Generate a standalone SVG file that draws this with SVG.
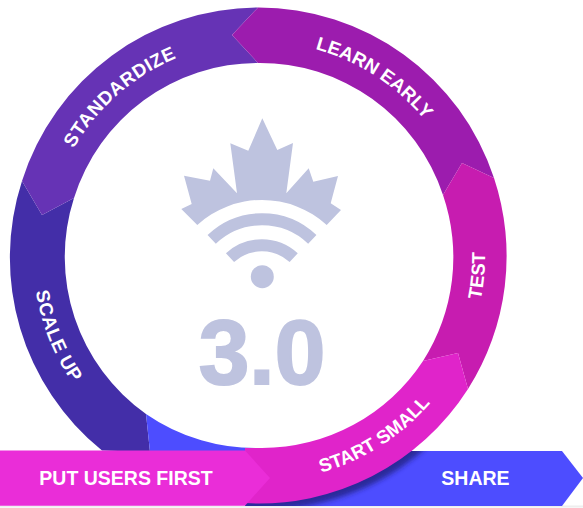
<svg xmlns="http://www.w3.org/2000/svg" width="583" height="508" viewBox="0 0 583 508">
<style>
.l{font-family:"Liberation Sans",Arial,sans-serif;font-weight:700;fill:#fff;font-size:18.8px}
.s{letter-spacing:.6px}
.b{font-family:"Liberation Sans",Arial,sans-serif;font-weight:700;fill:#fff;font-size:19.5px}
.m{fill:#bec3df}
.w{fill:none;stroke:#bec3df;stroke-width:12}
</style>
<defs>
<filter id="bl" x="-20%" y="-20%" width="140%" height="140%"><feGaussianBlur stdDeviation="2.500"/></filter>
<clipPath id="sh"><path d="M245,451H562L583,478L562,506H245Z"/></clipPath>
<path id="a1" d="M45,255.500A214,214 0 0 1 473,255.500"/>
<path id="a2" d="M33,255.500A226,226 0 0 0 485,255.500A226,226 0 0 0 33,255.500"/>
</defs>
<rect width="583" height="508" fill="#fff"/>
<rect x="0" y="505.500" width="583" height="2" fill="#e2e2e2" opacity=".6"/>
<g id="share">
<path d="M245,451H562L583,478L562,506H245Z" fill="#4d4dff"/>
<text class="b" x="475.500" y="485" text-anchor="middle">SHARE</text>
</g>
<g clip-path="url(#sh)"><circle cx="262" cy="262" r="248" fill="#1a1a70" opacity=".7" filter="url(#bl)"/></g>
<g id="scale-up">
<path d="M22,181A248,248 0 0 0 102,450.500L150,452L146,414A192.500,192.500 0 0 1 74,198L42,215Z" fill="#432ea8"/>
<text class="l s"><textPath href="#a2" startOffset="36">SCALE UP</textPath></text>
</g>
<g id="blue-wedge"><path d="M146,414A192.500,192.500 0 0 0 262,448L262,452L150,452Z" fill="#4d4dff"/></g>
<g id="standardize">
<path d="M22,181A248,248 0 0 1 258,7.500L232,35L258,63A192.500,192.500 0 0 0 74,198L42,215Z" fill="#6633b5"/>
<text class="l s"><textPath href="#a1" startOffset="112">STANDARDIZE</textPath></text>
</g>
<g id="learn-early">
<path d="M258,7.500A248,248 0 0 1 494,178L462,163L443,195A192.500,192.500 0 0 0 258,63L232,35Z" fill="#9c1cae"/>
<text class="l"><textPath href="#a1" startOffset="393">LEARN EARLY</textPath></text>
</g>
<g id="test">
<path d="M462,163L494,178A248,248 0 0 1 468,389L458,353L423,361A192.500,192.500 0 0 0 443,195Z" fill="#c71cb0"/>
<text class="l"><textPath href="#a2" startOffset="665">TEST</textPath></text>
</g>
<g id="start-small">
<path d="M458,353L468,389A248,248 0 0 1 245,503.100L245,448L262,448A192.500,192.500 0 0 0 423,361Z" fill="#e024ca"/>
<text class="l"><textPath href="#a2" startOffset="418">START SMALL</textPath></text>
</g>
<g id="put-users-first">
<path d="M0,450.500H245L270,478L245,505.700H0Z" fill="#ea2dd8"/>
<text class="b" x="126" y="485" text-anchor="middle">PUT USERS FIRST</text>
</g>
<g id="logo">
<path class="m" d="M262.300,118.300L277.300,150L293,143L286.300,193.300L308.700,168.300L313.300,181.700L338,176L330.700,203.300L341,210L326.700,225A96,96 0 0 0 197.300,225L181.300,209L191.700,204L184,175.700L210,180.700L213.300,168.300L237,193.300L230.300,143.300L248.300,150.700Z"/>
<path class="w" d="M211.700,239.300A73,73 0 0 1 312.300,239.300"/>
<path class="w" d="M230,257.700A47,47 0 0 1 293.700,257.700"/>
<circle class="m" cx="262.300" cy="276.700" r="11.500"/>
<text x="262" y="383.500" text-anchor="middle" font-family="Liberation Sans,Arial,sans-serif" font-weight="700" font-size="91" fill="#bec3df" stroke="#bec3df" stroke-width="2">3.0</text>
</g>
</svg>
